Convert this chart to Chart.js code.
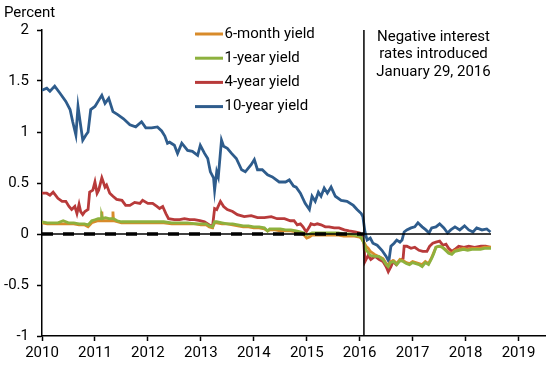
<!DOCTYPE html>
<html><head><meta charset="utf-8">
<script src="https://cdn.jsdelivr.net/npm/chart.js@4.4.0/dist/chart.umd.min.js"></script>
<style>html,body{margin:0;padding:0;background:#fff}#wrap{width:550px;height:365px;position:relative}</style>
</head><body><div id="wrap"><canvas id="c"></canvas></div>
<script>
// ---------- DATA (decimal years, percent) ----------
const yearTicks = [2010, 2011, 2012, 2013, 2014, 2015, 2016, 2017, 2018, 2019];
const yTickValues = [-1, -0.5, 0, 0.5, 1, 1.5, 2];
const seriesLabels = ['6-month yield', '1-year yield', '4-year yield', '10-year yield'];
const policyDate = 2016.08;      // January 29, 2016
const dataStart = 2010.0;
const dataEnd = 2018.48;
const annotationLines = ['Negative interest', 'rates introduced', 'January 29, 2016'];

const shortDates = [
  2010.00, 2010.10, 2010.20, 2010.30, 2010.40, 2010.50, 2010.60, 2010.70, 2010.80, 2010.87, 2010.94,
  2011.00, 2011.06, 2011.12, 2011.13, 2011.14, 2011.20, 2011.26, 2011.33, 2011.34, 2011.35, 2011.42, 2011.50, 2011.60, 2011.70, 2011.80, 2011.90,
  2012.00, 2012.15, 2012.30, 2012.45, 2012.60, 2012.75, 2012.90,
  2013.00, 2013.10, 2013.16, 2013.22, 2013.26, 2013.30, 2013.40, 2013.50, 2013.60, 2013.70, 2013.80, 2013.90,
  2014.00, 2014.10, 2014.20, 2014.26, 2014.30, 2014.40, 2014.50, 2014.60, 2014.70, 2014.80, 2014.88, 2014.95,
  2015.00, 2015.05, 2015.10, 2015.20, 2015.30, 2015.40, 2015.50, 2015.60, 2015.70, 2015.80, 2015.90,
  2016.00, 2016.04, 2016.08, 2016.12, 2016.16, 2016.20, 2016.28, 2016.36, 2016.44, 2016.50, 2016.54, 2016.58, 2016.64, 2016.70, 2016.76, 2016.82, 2016.88, 2016.94,
  2017.00, 2017.06, 2017.12, 2017.18, 2017.24, 2017.30, 2017.36, 2017.40, 2017.44, 2017.50, 2017.56, 2017.62, 2017.68, 2017.74, 2017.80, 2017.88, 2017.96,
  2018.04, 2018.12, 2018.20, 2018.28, 2018.36, 2018.44, 2018.48
];
const sixMonthValues = [
  0.11, 0.10, 0.10, 0.10, 0.10, 0.10, 0.10, 0.09, 0.09, 0.07, 0.11,
  0.12, 0.13, 0.13, 0.22, 0.13, 0.13, 0.13, 0.13, 0.22, 0.13, 0.12, 0.11, 0.11, 0.11, 0.11, 0.11,
  0.11, 0.11, 0.11, 0.10, 0.10, 0.10, 0.10,
  0.09, 0.09, 0.07, 0.06, 0.11, 0.11, 0.10, 0.10, 0.09, 0.08, 0.07, 0.07,
  0.06, 0.06, 0.05, 0.03, 0.04, 0.04, 0.03, 0.03, 0.03, 0.02, 0.01, -0.01,
  -0.04, -0.03, -0.01, -0.01, -0.01, -0.01, -0.01, -0.01, -0.02, -0.02, -0.02,
  -0.03, -0.05, -0.08, -0.12, -0.14, -0.17, -0.20, -0.22, -0.24, -0.29, -0.31, -0.27, -0.26, -0.29, -0.25, -0.26, -0.28, -0.29,
  -0.27, -0.28, -0.29, -0.30, -0.27, -0.29, -0.23, -0.18, -0.13, -0.12, -0.13, -0.15, -0.18, -0.19, -0.16, -0.15, -0.14,
  -0.15, -0.14, -0.14, -0.14, -0.13, -0.13, -0.13
];
const oneYearValues = [
  0.12, 0.11, 0.11, 0.11, 0.13, 0.11, 0.11, 0.10, 0.10, 0.09, 0.13,
  0.14, 0.15, 0.15, 0.17, 0.15, 0.16, 0.15, 0.15, 0.15, 0.15, 0.13, 0.12, 0.12, 0.12, 0.12, 0.12,
  0.12, 0.12, 0.12, 0.11, 0.11, 0.11, 0.10,
  0.10, 0.10, 0.08, 0.07, 0.12, 0.12, 0.11, 0.10, 0.10, 0.09, 0.08, 0.08,
  0.07, 0.07, 0.06, 0.03, 0.05, 0.05, 0.05, 0.04, 0.04, 0.03, 0.02, 0.01,
  -0.01, 0.00, 0.01, 0.01, 0.01, 0.01, 0.01, 0.01, 0.00, 0.00, -0.01,
  -0.02, -0.04, -0.09, -0.16, -0.18, -0.21, -0.22, -0.22, -0.25, -0.30, -0.32, -0.28, -0.27, -0.30, -0.26, -0.27, -0.29, -0.30,
  -0.28, -0.29, -0.30, -0.32, -0.28, -0.30, -0.24, -0.19, -0.13, -0.12, -0.13, -0.16, -0.19, -0.20, -0.17, -0.16, -0.15,
  -0.16, -0.15, -0.15, -0.15, -0.14, -0.14, -0.14
];

const fourYearDates = [
  2010.00, 2010.09, 2010.15, 2010.21, 2010.24, 2010.30, 2010.38, 2010.45, 2010.51, 2010.56, 2010.62, 2010.66, 2010.70, 2010.73, 2010.77, 2010.81, 2010.87, 2010.90, 2010.96,
  2011.00, 2011.04, 2011.07, 2011.13, 2011.19, 2011.22, 2011.28, 2011.34, 2011.41, 2011.51, 2011.58, 2011.66, 2011.75, 2011.85, 2011.90,
  2012.00, 2012.09, 2012.17, 2012.22, 2012.28, 2012.34, 2012.39, 2012.50, 2012.60, 2012.69, 2012.79, 2012.88, 2012.98,
  2013.07, 2013.16, 2013.22, 2013.26, 2013.30, 2013.37, 2013.43, 2013.50, 2013.60, 2013.69, 2013.82, 2013.95,
  2014.07, 2014.20, 2014.33, 2014.44, 2014.58, 2014.69, 2014.76, 2014.82, 2014.88, 2014.93, 2014.99,
  2015.05, 2015.08, 2015.14, 2015.20, 2015.27, 2015.35, 2015.42, 2015.52, 2015.61, 2015.71, 2015.80, 2015.91,
  2016.00, 2016.04, 2016.08, 2016.10, 2016.16, 2016.21, 2016.29, 2016.37, 2016.44, 2016.50, 2016.54, 2016.59, 2016.63, 2016.69, 2016.74, 2016.82, 2016.84, 2016.89, 2016.97,
  2017.04, 2017.12, 2017.19, 2017.27, 2017.32, 2017.38, 2017.44, 2017.51, 2017.57, 2017.63, 2017.68, 2017.74, 2017.80, 2017.87, 2017.97,
  2018.06, 2018.17, 2018.29, 2018.38, 2018.47
];
const fourYearValues = [
  0.40, 0.40, 0.38, 0.41, 0.39, 0.35, 0.32, 0.32, 0.27, 0.24, 0.27, 0.20, 0.29, 0.22, 0.19, 0.22, 0.24, 0.41, 0.43,
  0.51, 0.40, 0.43, 0.55, 0.46, 0.48, 0.40, 0.37, 0.34, 0.33, 0.28, 0.28, 0.31, 0.30, 0.33,
  0.30, 0.30, 0.27, 0.25, 0.27, 0.20, 0.15, 0.14, 0.14, 0.15, 0.14, 0.14, 0.13,
  0.12, 0.09, 0.07, 0.25, 0.24, 0.32, 0.27, 0.24, 0.22, 0.19, 0.17, 0.18,
  0.16, 0.16, 0.17, 0.15, 0.15, 0.13, 0.13, 0.09, 0.10, 0.07, 0.02,
  0.07, 0.10, 0.09, 0.10, 0.09, 0.07, 0.07, 0.06, 0.06, 0.04, 0.03, 0.02,
  0.01, -0.03, -0.09, -0.27, -0.21, -0.25, -0.22, -0.25, -0.27, -0.32, -0.37, -0.32, -0.27, -0.30, -0.27, -0.24, -0.12, -0.12, -0.14,
  -0.13, -0.16, -0.17, -0.17, -0.12, -0.09, -0.08, -0.07, -0.11, -0.10, -0.14, -0.17, -0.15, -0.12, -0.13,
  -0.12, -0.13, -0.12, -0.12, -0.13
];

const tenYearDates = [
  2010.00, 2010.09, 2010.15, 2010.24, 2010.34, 2010.45, 2010.53, 2010.58, 2010.64, 2010.68, 2010.72, 2010.77, 2010.83, 2010.87, 2010.92,
  2011.00, 2011.07, 2011.13, 2011.19, 2011.26, 2011.34, 2011.43, 2011.54, 2011.66, 2011.77, 2011.88, 2011.96,
  2012.07, 2012.18, 2012.26, 2012.32, 2012.37, 2012.41, 2012.50, 2012.56, 2012.64, 2012.75, 2012.84, 2012.94, 2012.99,
  2013.07, 2013.13, 2013.18, 2013.24, 2013.26, 2013.30, 2013.33, 2013.39, 2013.43, 2013.50, 2013.58, 2013.67, 2013.77, 2013.84, 2013.95,
  2014.01, 2014.07, 2014.16, 2014.26, 2014.35, 2014.48, 2014.60, 2014.67, 2014.75, 2014.80, 2014.88, 2014.97,
  2015.05, 2015.10, 2015.16, 2015.22, 2015.27, 2015.33, 2015.39, 2015.46, 2015.54, 2015.65, 2015.76, 2015.88, 2015.95,
  2016.03, 2016.06, 2016.10, 2016.14, 2016.20, 2016.25, 2016.33, 2016.42, 2016.50, 2016.55, 2016.59, 2016.65, 2016.70, 2016.76, 2016.80, 2016.84, 2016.89, 2016.97,
  2017.04, 2017.10, 2017.18, 2017.25, 2017.31, 2017.36, 2017.44, 2017.51, 2017.59, 2017.66, 2017.72, 2017.80, 2017.89, 2017.98,
  2018.06, 2018.14, 2018.21, 2018.31, 2018.40, 2018.47
];
const tenYearValues = [
  1.41, 1.43, 1.40, 1.45, 1.38, 1.30, 1.22, 1.10, 0.97, 1.25, 1.10, 0.92, 0.97, 1.00, 1.22,
  1.25, 1.31, 1.36, 1.28, 1.33, 1.20, 1.17, 1.13, 1.07, 1.05, 1.10, 1.04,
  1.04, 1.05, 1.01, 0.96, 0.89, 0.90, 0.87, 0.79, 0.89, 0.82, 0.81, 0.77, 0.87,
  0.79, 0.74, 0.61, 0.55, 0.43, 0.61, 0.56, 0.92, 0.86, 0.84, 0.79, 0.74, 0.63, 0.61, 0.68,
  0.73, 0.63, 0.63, 0.58, 0.56, 0.51, 0.51, 0.53, 0.47, 0.46, 0.40, 0.30,
  0.24, 0.37, 0.32, 0.41, 0.37, 0.45, 0.40, 0.46, 0.37, 0.33, 0.32, 0.28, 0.24,
  0.20, 0.17, 0.02, -0.06, -0.04, -0.09, -0.11, -0.16, -0.22, -0.27, -0.12, -0.09, -0.06, -0.08, -0.06, 0.02, 0.04, 0.06,
  0.07, 0.11, 0.07, 0.04, 0.01, 0.06, 0.07, 0.10, 0.06, 0.01, 0.04, 0.07, 0.04, 0.08,
  0.04, 0.02, 0.06, 0.04, 0.05, 0.02
];

// ---------- BUILD ----------
const pts = (xs, ys) => xs.map((x, i) => ({ x: x, y: ys[i] }));
const FONT = 'Roboto, "Liberation Sans", Arial, sans-serif';
const colors = { six: '#D88B2A', one: '#8DB13E', four: '#B83A3A', ten: '#2E5C8C' };

const lineDs = (label, data, color, order) => ({
  label, data, borderColor: color, backgroundColor: color, borderWidth: 2.8,
  pointRadius: 0, tension: 0, fill: false, order
});

const datasets = [
  { label: 'zero-dashed', data: [{ x: dataStart, y: 0 }, { x: policyDate, y: 0 }], borderColor: '#000', borderWidth: 3.5, borderDash: [11, 10], pointRadius: 0, order: 0 },
  { label: 'zero', data: [{ x: dataStart, y: 0 }, { x: dataEnd, y: 0 }], borderColor: '#000', borderWidth: 1.5, pointRadius: 0, order: 0 },
  { label: 'policy', data: [{ x: policyDate, y: -1 }, { x: policyDate, y: 2 }], borderColor: '#000', borderWidth: 1.5, pointRadius: 0, order: 0 },
  lineDs(seriesLabels[1], pts(shortDates, oneYearValues), colors.one, 1),
  lineDs(seriesLabels[0], pts(shortDates, sixMonthValues), colors.six, 2),
  lineDs(seriesLabels[2], pts(fourYearDates, fourYearValues), colors.four, 3),
  lineDs(seriesLabels[3], pts(tenYearDates, tenYearValues), colors.ten, 4)
];

const overlay = {
  id: 'overlay',
  afterDraw(chart) {
    const ctx = chart.ctx;
    ctx.save();
    ctx.fillStyle = '#000';
    ctx.font = '15px ' + FONT;
    ctx.textAlign = 'left';
    ctx.textBaseline = 'alphabetic';
    ctx.fillText('Percent', 4, 16.5);

    // legend
    ctx.textBaseline = 'middle';
    seriesLabels.forEach((lab, i) => {
      const ds = chart.data.datasets.find(d => d.label === lab);
      const y = 34 + i * 24.2;
      ctx.strokeStyle = ds.borderColor;
      ctx.lineWidth = 3;
      ctx.beginPath(); ctx.moveTo(195, y); ctx.lineTo(223, y); ctx.stroke();
      ctx.fillStyle = '#000';
      ctx.fillText(lab, 224.5, y);
    });

    // annotation
    ctx.textAlign = 'center';
    annotationLines.forEach((t, i) => ctx.fillText(t, 433.5, 37 + i * 17.5));
    ctx.restore();
  }
};

new Chart(document.getElementById('c'), {
  type: 'line',
  data: { datasets },
  options: {
    responsive: true, maintainAspectRatio: false, devicePixelRatio: 1, animation: false,
    layout: { padding: { top: 30, right: 5, left: 0, bottom: 0 } },
    plugins: { legend: { display: false }, tooltip: { enabled: false } },
    scales: {
      x: {
        type: 'linear', min: 2010, max: 2019.5,
        afterFit: s => { s.height = 29; },
        afterBuildTicks: s => { s.ticks = yearTicks.map(v => ({ value: v })); },
        ticks: { callback: v => String(v), color: '#000', font: { family: FONT, size: 15 }, padding: 3, maxRotation: 0, autoSkip: false },
        grid: { display: true, drawOnChartArea: false, drawTicks: true, tickLength: 5, color: '#000', tickWidth: 1.5 },
        border: { display: true, color: '#000', width: 1.5 }
      },
      y: {
        min: -1, max: 2,
        afterFit: s => { s.width = 42; },
        afterBuildTicks: s => { s.ticks = yTickValues.map(v => ({ value: v })); },
        ticks: { callback: v => String(v), color: '#000', font: { family: FONT, size: 15 }, padding: 8 },
        grid: { display: true, drawOnChartArea: false, drawTicks: true, tickLength: 5, color: '#000', tickWidth: 1.5 },
        border: { display: true, color: '#000', width: 1.5 }
      }
    }
  },
  plugins: [overlay]
});
</script></body></html>
